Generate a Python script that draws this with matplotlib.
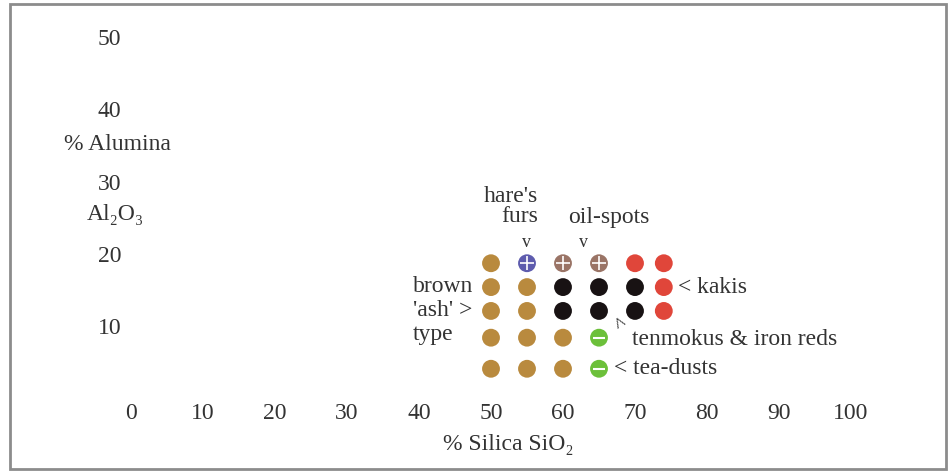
import numpy as np
import matplotlib
matplotlib.use('Agg')
import matplotlib.pyplot as plt
from matplotlib.patches import Rectangle

plt.rcParams['font.family'] = ['Liberation Serif', 'DejaVu Serif']

# glaze grid: silica (x) and alumina (y) of each sample dot
silica_cols = [50, 55, 60, 65, 70, 74]
alumina_rows = [18.7, 15.4, 12.1, 8.4, 4.1]

# colour code per row (None = no dot)
row_kinds = [
    ['brown', 'blue_x', 'oil_x', 'oil_x', 'red', 'red'],
    ['brown', 'brown', 'black', 'black', 'black', 'red'],
    ['brown', 'brown', 'black', 'black', 'black', 'red'],
    ['brown', 'brown', 'brown', 'green', None, None],
    ['brown', 'brown', 'brown', 'green', None, None],
]

colours = {'brown': '#b98a3e', 'blue_x': '#5e5cae', 'oil_x': '#9a7466',
           'red': '#e0463a', 'black': '#181213', 'green': '#6cc03a'}

xticks = [0, 10, 20, 30, 40, 50, 60, 70, 80, 90, 100]
yticks = [10, 20, 30, 40, 50]

W, H = 949, 472
fig = plt.figure(figsize=(W / 100, H / 100), dpi=100)
# axes box: x 0..100 -> px 131..851, y 0..50 -> px 398..37
ax = fig.add_axes([131 / W, (H - 398.4) / H, 720 / W, 361.4 / H])
ax.set_xlim(0, 100)
ax.set_ylim(0, 50)
for s in ax.spines.values():
    s.set_visible(False)
ax.set_xticks(xticks)
ax.set_yticks(yticks)
ax.tick_params(length=0, labelsize=17, colors='#333333')
ax.tick_params(axis='x', pad=3)
ax.tick_params(axis='y', pad=7)

for yv, kinds in zip(alumina_rows, row_kinds):
    for xv, k in zip(silica_cols, kinds):
        if k is None:
            continue
        ax.scatter(xv, yv, s=165, color=colours[k], edgecolors='none', zorder=3)
        if k.endswith('_x'):
            ax.scatter(xv, yv, s=90, marker='+', color='white', linewidths=1.2, zorder=4)
        if k == 'green':
            ax.scatter(xv, yv, s=70, marker='_', color='white', linewidths=1.5, zorder=4)

tc = '#333333'
fs = 17
ax.text(56.5, 28.0, "hare's", ha='right', va='center', fontsize=fs, color=tc)
ax.text(56.5, 25.1, "furs", ha='right', va='center', fontsize=fs, color=tc)
ax.text(54.9, 21.6, "v", ha='center', va='center', fontsize=13, color=tc)
ax.text(66.3, 25.0, "oil-spots", ha='center', va='center', fontsize=fs, color=tc)
ax.text(62.8, 21.6, "v", ha='center', va='center', fontsize=13, color=tc)
ax.text(39.2, 15.5, "brown", ha='left', va='center', fontsize=fs, color=tc)
ax.text(39.2, 12.1, "'ash' >", ha='left', va='center', fontsize=fs, color=tc)
ax.text(39.2, 8.9, "type", ha='left', va='center', fontsize=fs, color=tc)
ax.text(76.0, 15.3, "< kakis", ha='left', va='center', fontsize=fs, color=tc)
ax.text(68.2, 10.0, "^", ha='center', va='center', fontsize=15, color=tc, rotation=30)
ax.text(69.6, 8.2, "tenmokus & iron reds", ha='left', va='center', fontsize=fs, color=tc)
ax.text(67.1, 4.2, "< tea-dusts", ha='left', va='center', fontsize=fs, color=tc)

ax.text(52.4, -6.4, "% Silica SiO\u2082", ha='center', va='center', fontsize=fs, color=tc)
ax.text(-1.9, 35.1, "% Alumina", ha='center', va='center', fontsize=fs, color=tc)
ax.text(-2.1, 25.4, "Al\u2082O\u2083", ha='center', va='center', fontsize=fs, color=tc)

# picture frame
fig.patches.append(Rectangle((10 / W, 3 / H), 936 / W, 465 / H, transform=fig.transFigure,
                             fill=False, edgecolor='#8c8c8c', linewidth=2))

fig.savefig('out.png', dpi=100)
